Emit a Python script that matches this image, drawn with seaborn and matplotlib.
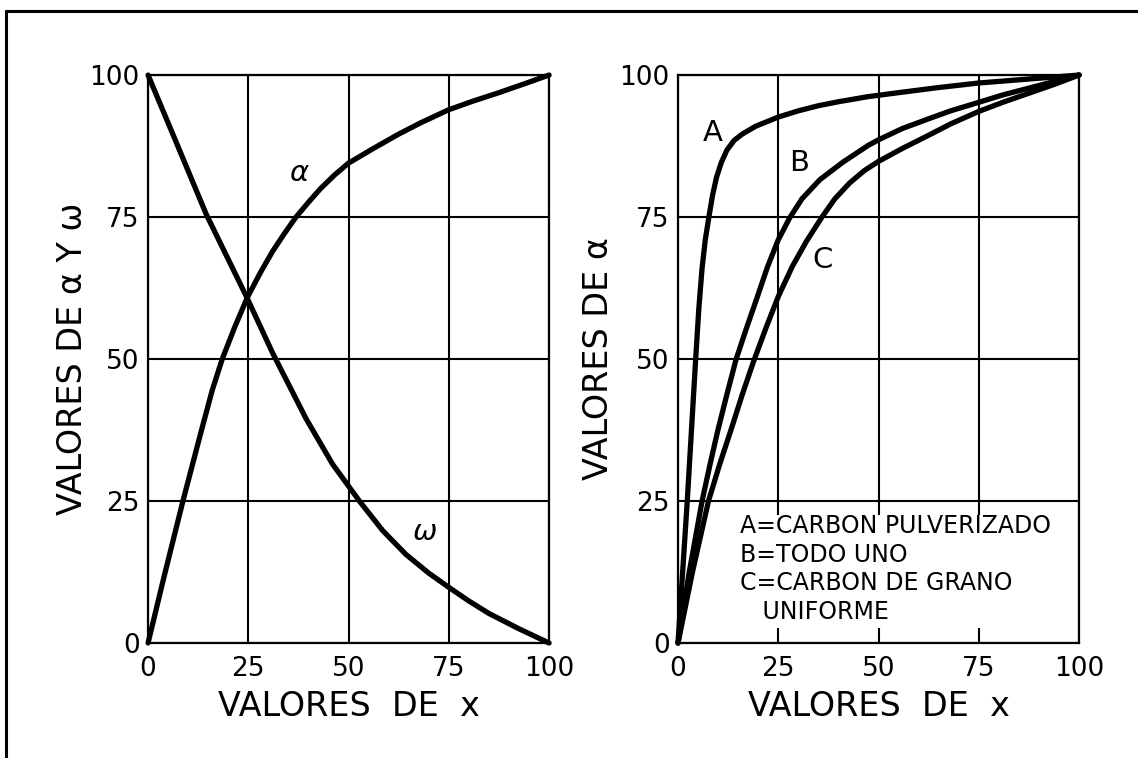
import matplotlib
matplotlib.use("Agg")
import matplotlib.pyplot as plt
from matplotlib.lines import Line2D
from matplotlib.patches import Rectangle
import seaborn as sns

# ---------------- data ----------------
ticks = [0, 25, 50, 75, 100]
tick_labels = ["0", "25", "50", "75", "100"]

# left panel
alpha_x = [0, 4, 8.7, 13, 16, 18.5, 21.6, 24.8, 28, 31, 34, 36.9, 40, 43, 46.5, 50,
           56, 62.5, 68, 75, 81, 87.5, 94, 100]
alpha_y = [0, 11.7, 25, 36.6, 44.5, 50, 55.6, 60.9, 65.2, 68.9, 72.1, 75, 77.6, 80, 82.4, 84.5,
           87.0, 89.6, 91.6, 93.9, 95.4, 96.9, 98.5, 100]
omega_x = [0, 7, 14.5, 24.6, 31.1, 39.4, 46, 52.7, 58.5, 64.3, 70, 75, 80, 85, 92.5, 100]
omega_y = [100, 88.2, 75.5, 60.9, 51, 39.5, 31.5, 25, 19.8, 15.6, 12.3, 9.8, 7.4, 5.2, 2.5, 0]

# right panel
a_x = [0, 1.2, 2.3, 3.4, 4.4, 5.2, 6.0, 6.8, 7.7, 8.6, 9.6, 10.8, 12.2, 14, 16, 19.4,
       25, 30, 35, 40, 47.4, 55, 65, 75, 87.5, 100]
a_y = [0, 13, 25, 38, 50, 59, 66, 71, 75, 78.8, 82, 84.6, 86.8, 88.5, 89.6, 91,
       92.6, 93.7, 94.6, 95.3, 96.2, 96.9, 97.8, 98.6, 99.3, 100]
b_x = [0, 2.8, 6.0, 8.0, 9.95, 12.2, 14.5, 17.2, 19.8, 22.3, 25, 27.8, 30.9, 35.4, 41.2,
       47.4, 50, 56, 62.5, 68, 75, 81, 87.5, 94, 100]
b_y = [0, 12.5, 25, 31.5, 37.5, 43.8, 50, 55.7, 61, 66.2, 71, 74.8, 78.2, 81.6, 84.7,
       87.6, 88.6, 90.6, 92.3, 93.7, 95.2, 96.5, 97.7, 98.9, 100]
c_x = [0, 3.6, 7.6, 10.4, 13.2, 16, 18.8, 22, 25, 28.5, 32, 35.9, 39.1, 42.8, 46.5, 50,
       56, 62.5, 68, 75, 81, 87.5, 94, 100]
c_y = [0, 12.5, 25, 31.5, 37.5, 43.7, 49.5, 55.6, 61, 66.3, 70.7, 75, 78.2, 81, 83.2, 84.8,
       87.1, 89.4, 91.4, 93.6, 95.2, 96.8, 98.4, 100]

x_label = "VALORES  DE  x"
y_label_left = "VALORES DE α Y ω"
y_label_right = "VALORES DE α"
legend_lines = ["A=CARBON PULVERIZADO", "B=TODO UNO", "C=CARBON DE GRANO", "   UNIFORME"]

# ---------------- style ----------------
sns.set_theme(style="white")
plt.rcParams["font.family"] = ["DejaVu Sans"]
plt.rcParams["mathtext.fontset"] = "dejavusans"
plt.rcParams["text.color"] = "black"
plt.rcParams["axes.labelcolor"] = "black"
plt.rcParams["xtick.color"] = "black"
plt.rcParams["ytick.color"] = "black"

fig = plt.figure(figsize=(11.38, 7.58), dpi=100)
fig.patch.set_facecolor("white")

ax1 = fig.add_axes([0.1301, 0.1517, 0.3524, 0.7493])
ax2 = fig.add_axes([0.5958, 0.1517, 0.3524, 0.7493])

LW = 3.8
line_kw = dict(color="black", linewidth=LW, estimator=None, sort=False,
               legend=False, solid_capstyle="round", solid_joinstyle="round",
               clip_on=False, zorder=3)

for ax in (ax1, ax2):
    ax.set_xlim(0, 100)
    ax.set_ylim(0, 100)
    ax.set_xticks(ticks)
    ax.set_yticks(ticks)
    ax.set_xticklabels(tick_labels)
    ax.set_yticklabels(tick_labels)
    ax.set_axisbelow(True)
    ax.grid(True, color="black", linewidth=1.5)
    for s in ax.spines.values():
        s.set_visible(True)
        s.set_color("black")
        s.set_linewidth(1.6)
    ax.tick_params(axis="both", length=0, labelsize=19, colors="black")
    ax.tick_params(axis="x", pad=9)
    ax.tick_params(axis="y", pad=6)
    ax.set_facecolor("white")

# left panel curves
sns.lineplot(x=alpha_x, y=alpha_y, ax=ax1, **line_kw)
sns.lineplot(x=omega_x, y=omega_y, ax=ax1, **line_kw)
ax1.text(37.8, 82.7, r"$\alpha$", fontsize=21, ha="center", va="center", color="black")
ax1.text(68.9, 19.6, r"$\omega$", fontsize=21, ha="center", va="center", color="black")

# right panel curves
sns.lineplot(x=a_x, y=a_y, ax=ax2, **line_kw)
sns.lineplot(x=b_x, y=b_y, ax=ax2, **line_kw)
sns.lineplot(x=c_x, y=c_y, ax=ax2, **line_kw)
ax2.text(8.7, 89.8, "A", fontsize=21, ha="center", va="center", color="black")
ax2.text(30.1, 84.5, "B", fontsize=21, ha="center", va="center", color="black")
ax2.text(36.0, 67.4, "C", fontsize=21, ha="center", va="center", color="black")

# white block behind the legend text
ax2.add_patch(Rectangle((13.5, 2.7), 85.0, 19.9, facecolor="white",
                        edgecolor="none", zorder=1))
for txt, yy in zip(legend_lines, [20.6, 15.5, 10.5, 5.4]):
    ax2.text(15.4, yy, txt, fontsize=17, ha="left", va="center", zorder=4, color="black")

# axis labels
ax1.set_xlabel(x_label, fontsize=24, color="black")
ax2.set_xlabel(x_label, fontsize=24, color="black")
ax1.set_ylabel(y_label_left, fontsize=24, color="black")
ax2.set_ylabel(y_label_right, fontsize=24, color="black")
ax1.xaxis.set_label_coords(0.5, -0.083)
ax2.xaxis.set_label_coords(0.5, -0.083)
ax1.yaxis.set_label_coords(-0.147, 0.5)
ax2.yaxis.set_label_coords(-0.157, 0.5)

# outer frame (top and left)
fig.add_artist(Line2D([0.005, 1.0], [0.9855, 0.9855], transform=fig.transFigure,
                      color="black", linewidth=2.2))
fig.add_artist(Line2D([0.005, 0.005], [0.0, 0.9855], transform=fig.transFigure,
                      color="black", linewidth=2.2))

fig.savefig("out.png", dpi=100, facecolor="white")
